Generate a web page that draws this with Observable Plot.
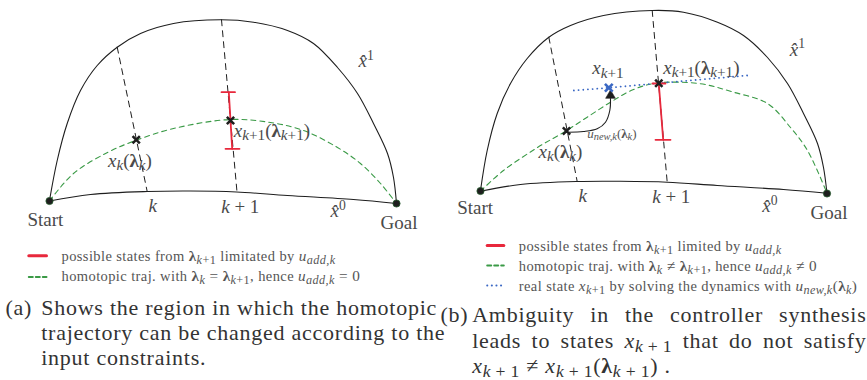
<!DOCTYPE html>
<html>
<head>
<meta charset="utf-8">
<script src="https://cdn.jsdelivr.net/npm/d3@7"></script>
<script src="https://cdn.jsdelivr.net/npm/@observablehq/plot@0.6"></script>
<style>
  html, body { margin: 0; padding: 0; background: #fff; }
  svg { display: block; font-family: "Liberation Serif", "DejaVu Serif", serif; }
</style>
</head>
<body>
<div id="chart"></div>
<script>
// ---------- Panel (a) geometry ----------
const topA = [[49,200],[56.7,160],[66.7,123],[80,90],[96.7,65],[116.7,46.7],[140,33],[173,23],[220,19.3],[253,21.7],[287,30],[313,43],[337,67],[357,93],[373,123],[387,153],[393,177],[396,203]];
const bottomA = [[49,200.5],[90,194],[146.7,191],[190,190.5],[236,191.5],[287,195],[353,199],[396,203]];
const greenA = [[49,200.5],[73,173],[107,152],[135,140],[173,128],[230,119],[270,122],[303,130],[337,147],[360,163],[380,183],[396,203]];
const stageKA = [[116.7,46.7],[146.7,191]];
const stageK1A = [[221,19.3],[236.5,191.5]];
const redA = [[228.3,91.7],[231.7,148.3]];
const redCapTopA = [[221,91.7],[234.5,91.7]];
const redCapBotA = [[225,148.3],[239,148.3]];
const crossesA = [[135.7,139.3],[230,120]];

// ---------- Panel (b) geometry ----------
const topB = [[480,190],[486.7,150],[496.7,113],[510,83],[526.7,58],[548,37],[570,25],[603,15],[651.7,10],[683,11.7],[717,21.7],[743,35],[767,57],[787,83],[803,113],[817,143],[823,167],[826.5,193]];
const bottomB = [[480,190.7],[520,184],[576.7,181],[620,180.8],[666.7,181.7],[716.7,185],[783,189],[826.5,192.7]];
const greenB = [[480,190.7],[503,170],[537,147],[565,130.7],[586.7,116.7],[610,101.7],[633,89],[656.7,82.5],[700,83.3],[733,91.7],[767,103],[790,127],[807,150],[826.5,192.7]];
const blueB = [[573.3,90],[608.3,87.3],[658.3,82.7],[746.7,75]];
const stageKB = [[548.3,36.7],[576.7,181]];
const stageK1B = [[651.7,10],[666.7,181.7]];
const redB = [[658.3,83.3],[662.7,139.3]];
const redCapTopB = [[652,83],[665,83]];
const redCapBotB = [[655,139.3],[670,139.3]];
const arrowB = [[568,131.7],[583,131],[596.7,128.3],[605,121.7],[609.3,110],[610,98]];
const arrowHeadB = [[610,95]];
const crossesB = [[566,130.5],[658.3,82.7]];
const blueCrossB = [[608.3,87.3]];

const endpoints = [[49,200.5],[396,203],[480,190.5],[826.5,193]];

// ---------- legend swatches ----------
const legRed = [[[28.3,255.3],[46,255.3]],[[486.7,245],[503.3,245]]];
const legGreen = [[[28.3,276.5],[46,276.5]],[[486.7,265],[503.3,265]]];
const legBlue = [[[486.7,285],[503.3,285]]];

// ---------- text (left edge x, baseline y) ----------
const M = s => `<m s="1.05">${s}</m>`;
const diagramLabels = [
  {t:"Start", x:27, y:225},
  {t:"Goal", x:380, y:228.3},
  {t:"<i>k</i>", x:148, y:211.7},
  {t:"<i>k</i> + 1", x:220.7, y:212},
  {t:"<i>x̂</i><sup>0</sup>", x:330, y:216.7},
  {t:"<i>x̂</i><sup>1</sup>", x:358, y:66.7},
  {t:"<i>x</i><sub><i>k</i></sub>(<b>λ</b><sub><i>k</i></sub>)", x:107.5, y:166},
  {t:"<i>x</i><sub><i>k</i>+1</sub>(<b>λ</b><sub><i>k</i>+1</sub>)", x:233.3, y:136},
  {t:"Start", x:456.7, y:213.3},
  {t:"Goal", x:810, y:218.3},
  {t:"<i>k</i>", x:578, y:201.7},
  {t:"<i>k</i> + 1", x:651.7, y:202},
  {t:"<i>x̂</i><sup>0</sup>", x:761.7, y:211.7},
  {t:"<i>x̂</i><sup>1</sup>", x:789.3, y:55},
  {t:"<i>x</i><sub><i>k</i>+1</sub>", x:591.7, y:73.3},
  {t:"<i>x</i><sub><i>k</i>+1</sub>(<b>λ</b><sub><i>k</i>+1</sub>)", x:662.7, y:73},
  {t:"<i>x</i><sub><i>k</i></sub>(<b>λ</b><sub><i>k</i></sub>)", x:538, y:157}
];
const smallLabels = [
  {t:"<i>u</i><sub><i>new,k</i></sub>(<b>λ</b><sub><i>k</i></sub>)", x:586.7, y:137}
];
const legendTexts = [
  {t:`possible states from ${M("<b>λ</b><sub><i>k</i>+1</sub>")} limitated by ${M("<i>u</i><sub><i>add,k</i></sub>")}`, x:61, y:260.3},
  {t:`homotopic traj. with ${M("<b>λ</b><sub><i>k</i></sub> = <b>λ</b><sub><i>k</i>+1</sub>")}, hence ${M("<i>u</i><sub><i>add,k</i></sub> = 0")}`, x:61, y:280},
  {t:`possible states from ${M("<b>λ</b><sub><i>k</i>+1</sub>")} limited by ${M("<i>u</i><sub><i>add,k</i></sub>")}`, x:518.3, y:250},
  {t:`homotopic traj. with ${M("<b>λ</b><sub><i>k</i></sub> ≠ <b>λ</b><sub><i>k</i>+1</sub>")}, hence ${M("<i>u</i><sub><i>add,k</i></sub> ≠ 0")}`, x:518.3, y:270},
  {t:`real state ${M("<i>x</i><sub><i>k</i>+1</sub>")} by solving the dynamics with ${M("<i>u</i><sub><i>new,k</i></sub>(<b>λ</b><sub><i>k</i></sub>)")}`, x:518.3, y:290}
];
const K1 = "<i>k</i>\u2009+\u20091";
const captionTexts = [
  {t:"(a)", x:5, y:314},
  {t:"Shows the region in which the homotopic", x:40.7, y:314},
  {t:"trajectory can be changed according to the", x:40.7, y:339},
  {t:"input constraints.", x:40.7, y:364},
  {t:"(b)", x:440, y:321},
  {t:"Ambiguity in the controller synthesis", x:471.7, y:321},
  {t:`leads to states <i>x</i><sub>${K1}</sub> that do not satisfy`, x:471.7, y:347},
  {t:`<i>x</i><sub>${K1}</sub> ≠ <i>x</i><sub>${K1}</sub>(<b>λ</b><sub>${K1}</sub>) .`, x:471.7, y:372}
];
const justifiedStarts = ["Ambiguity", "leads to states"];
const justifyRight = 866.5;

// ---------- styles ----------
const FONT = "'Liberation Serif', 'DejaVu Serif', serif";
const BLACK = "#1e1e1e", GREEN = "#3a9a46", RED = "#e8283c", BLUE = "#3b68c4";
const LEGEND_SIZE = 14.5, CAPTION_SIZE = 22;
const px = d => d[0], py = d => d[1];
const ln = (data, o) => Plot.line(data, {x: px, y: py, ...o});
const solid = {stroke: BLACK, strokeWidth: 1.1, curve: "catmull-rom"};
const stageDash = {stroke: BLACK, strokeWidth: 1, strokeDasharray: "6,5"};
const greenDash = {stroke: GREEN, strokeWidth: 1.1, strokeDasharray: "5,4", curve: "catmull-rom"};
const redLine = {stroke: RED, strokeWidth: 1.8};
const txt = {x: "x", y: "y", text: "t", textAnchor: "start", lineAnchor: "bottom", fontFamily: FONT};

const marks = [
  ln(topA, solid), ln(bottomA, solid),
  ln(topB, solid), ln(bottomB, solid),
  ln(stageKA, stageDash), ln(stageK1A, stageDash),
  ln(stageKB, stageDash), ln(stageK1B, stageDash),
  ln(greenA, greenDash), ln(greenB, greenDash),
  ln(blueB, {stroke: BLUE, strokeWidth: 1.8, strokeDasharray: "0.1,4.6", strokeLinecap: "round"}),
  ln(redA, redLine), ln(redCapTopA, redLine), ln(redCapBotA, redLine),
  ln(redB, redLine), ln(redCapTopB, redLine), ln(redCapBotB, redLine),
  ln(arrowB, {stroke: BLACK, strokeWidth: 1.1, curve: "catmull-rom"}),
  Plot.dot(arrowHeadB, {x: px, y: py, symbol: "triangle", r: 3.6, fill: BLACK, stroke: BLACK, strokeWidth: 0.6}),
  Plot.dot(crossesA, {x: px, y: py, symbol: "times", r: 3.4, stroke: BLACK, strokeWidth: 2.5}),
  Plot.dot(crossesB, {x: px, y: py, symbol: "times", r: 3.4, stroke: BLACK, strokeWidth: 2.5}),
  Plot.dot(blueCrossB, {x: px, y: py, symbol: "times", r: 3.6, stroke: BLUE, strokeWidth: 2.6}),
  Plot.dot(endpoints, {x: px, y: py, r: 3.6, fill: BLACK, stroke: "#245a2c", strokeWidth: 0.8}),
  ...legRed.map(s => ln(s, {stroke: RED, strokeWidth: 3})),
  ...legGreen.map(s => ln(s, {stroke: GREEN, strokeWidth: 2, strokeDasharray: "4,3"})),
  ...legBlue.map(s => ln(s, {stroke: BLUE, strokeWidth: 2, strokeDasharray: "0.1,4.5", strokeLinecap: "round"})),
  Plot.text(diagramLabels, {...txt, fontSize: 19, fill: "#4a4a4a"}),
  Plot.text(smallLabels, {...txt, fontSize: 13, fill: "#555"}),
  Plot.text(legendTexts, {...txt, fontSize: LEGEND_SIZE, fill: "#555"}),
  Plot.text(captionTexts, {...txt, fontSize: CAPTION_SIZE, fill: "#333"})
];

const chart = Plot.plot({
  width: 867, height: 380, margin: 0,
  x: {domain: [0, 867], range: [0, 867], axis: null},
  y: {domain: [0, 380], range: [0, 380], axis: null},
  style: {background: "white", fontFamily: FONT},
  marks
});
document.getElementById("chart").appendChild(chart);

// ---------- turn the small markup into SVG tspans ----------
const SVGNS = "http://www.w3.org/2000/svg";
chart.querySelectorAll("text").forEach(t => {
  const s = t.textContent;
  if (!s.includes("<")) return;
  const base = parseFloat(getComputedStyle(t).fontSize) || 16;
  const div = document.createElement("div");
  div.innerHTML = s;
  while (t.firstChild) t.removeChild(t.firstChild);
  let cur = 0;
  const walk = (node, st) => {
    if (node.nodeType === 3) {
      if (!node.nodeValue) return;
      const ts = document.createElementNS(SVGNS, "tspan");
      ts.textContent = node.nodeValue;
      if (st.i) ts.setAttribute("font-style", "italic");
      if (st.b) ts.setAttribute("font-weight", "bold");
      ts.setAttribute("font-size", (base * st.scale).toFixed(2));
      const target = st.shift * base;
      const dy = target - cur;
      if (Math.abs(dy) > 0.01) ts.setAttribute("dy", dy.toFixed(2));
      cur = target;
      t.appendChild(ts);
      return;
    }
    const ns = {...st};
    const tag = node.nodeName;
    if (tag === "I") ns.i = true;
    if (tag === "B") ns.b = true;
    if (tag === "M") ns.scale = st.scale * parseFloat(node.getAttribute("s") || "1");
    if (tag === "SUB") { ns.shift = st.shift + 0.2 * st.scale; ns.scale = st.scale * 0.8; }
    if (tag === "SUP") { ns.shift = st.shift - 0.4 * st.scale; ns.scale = st.scale * 0.72; }
    node.childNodes.forEach(c => walk(c, ns));
  };
  walk(div, {i: false, b: false, shift: 0, scale: 1});
});

// ---------- widen the serif a little (the original face is wider) ----------
chart.querySelectorAll("text").forEach(t => {
  const fs = parseFloat(getComputedStyle(t).fontSize);
  if (fs === CAPTION_SIZE) t.style.letterSpacing = "0.75px";
  else if (fs === LEGEND_SIZE) t.style.letterSpacing = "0.4px";
});

// ---------- justify the caption lines of (b) ----------
chart.querySelectorAll("text").forEach(t => {
  const s = t.textContent;
  if (!justifiedStarts.some(p => s.startsWith(p))) return;
  const r = t.getBoundingClientRect();
  const spaces = (s.match(/ /g) || []).length;
  if (spaces > 0) t.style.wordSpacing = ((justifyRight - r.left - r.width) / spaces) + "px";
});
</script>
</body>
</html>
